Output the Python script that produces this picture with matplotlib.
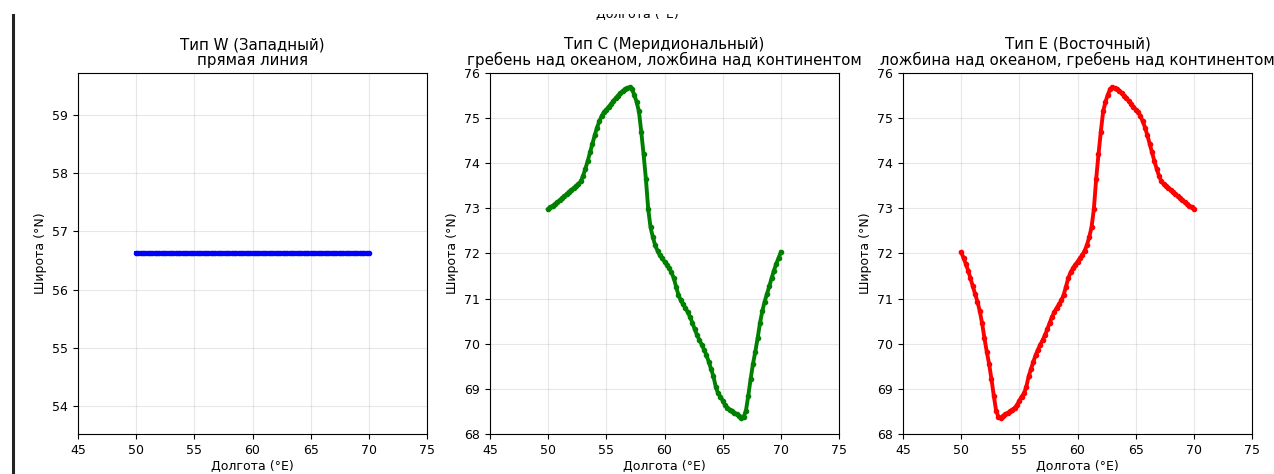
import numpy as np
import matplotlib
matplotlib.use("Agg")
import matplotlib.pyplot as plt
from matplotlib.lines import Line2D
from matplotlib.patches import Rectangle

# longitudes of the trajectory points (50..70 E, step 0.2)
lon = np.linspace(50, 70, 101)

# type W: straight zonal line
lat_w = [56.62] * len(lon)

# type C: ridge over ocean, trough over continent
lat_c = [
    72.98, 73.02, 73.06, 73.10, 73.14, 73.18, 73.23, 73.27, 73.32, 73.37,
    73.41, 73.45, 73.50, 73.54, 73.60, 73.72, 73.88, 74.05, 74.24, 74.43,
    74.62, 74.79, 74.93, 75.05, 75.13, 75.19, 75.25, 75.31, 75.38, 75.44,
    75.50, 75.55, 75.60, 75.64, 75.67, 75.68, 75.64, 75.52, 75.36, 75.15,
    74.70, 74.20, 73.65, 72.98, 72.58, 72.36, 72.18, 72.06, 71.96, 71.89,
    71.82, 71.75, 71.67, 71.58, 71.45, 71.26, 71.08, 70.96, 70.87, 70.79,
    70.70, 70.59, 70.46, 70.32, 70.19, 70.08, 69.98, 69.87, 69.75, 69.60,
    69.44, 69.28, 69.05, 68.90, 68.83, 68.74, 68.64, 68.58, 68.54, 68.50,
    68.47, 68.44, 68.40, 68.36, 68.38, 68.52, 68.85, 69.22, 69.55, 69.82,
    70.12, 70.45, 70.72, 70.93, 71.10, 71.27, 71.45, 71.62, 71.77, 71.90,
    72.03,
]

# type E: trough over ocean, ridge over continent
lat_e = [
    72.03, 71.90, 71.77, 71.62, 71.45, 71.27, 71.10, 70.93, 70.72, 70.45,
    70.12, 69.82, 69.55, 69.22, 68.85, 68.52, 68.38, 68.36, 68.40, 68.44,
    68.47, 68.50, 68.54, 68.58, 68.64, 68.74, 68.83, 68.90, 69.05, 69.28,
    69.44, 69.60, 69.75, 69.87, 69.98, 70.08, 70.19, 70.32, 70.46, 70.59,
    70.70, 70.79, 70.87, 70.96, 71.08, 71.26, 71.45, 71.58, 71.67, 71.75,
    71.82, 71.89, 71.96, 72.06, 72.18, 72.36, 72.58, 72.98, 73.65, 74.20,
    74.70, 75.15, 75.36, 75.52, 75.64, 75.68, 75.67, 75.64, 75.60, 75.55,
    75.50, 75.44, 75.38, 75.31, 75.25, 75.19, 75.13, 75.05, 74.93, 74.79,
    74.62, 74.43, 74.24, 74.05, 73.88, 73.72, 73.60, 73.54, 73.50, 73.45,
    73.41, 73.37, 73.32, 73.27, 73.23, 73.18, 73.14, 73.10, 73.06, 73.02,
    72.98,
]

titles = [
    "Тип W (Западный)\nпрямая линия",
    "Тип C (Меридиональный)\nгребень над океаном, ложбина над континентом",
    "Тип E (Восточный)\nложбина над океаном, гребень над континентом",
]
series = [lat_w, lat_c, lat_e]
colors = ["blue", "green", "red"]
ylims = [(53.52, 59.72), (68, 76), (68, 76)]

fig = plt.figure(figsize=(12.74, 4.74), dpi=100)
lefts = [0.0612, 0.3846, 0.7088]

for left, lat, color, title, ylim in zip(lefts, series, colors, titles, ylims):
    ax = fig.add_axes([left, 0.0844, 0.274, 0.7616])
    ax.plot(lon, lat, color=color, linewidth=2.8, marker="o", markersize=3)
    ax.set_xlim(45, 75)
    ax.set_ylim(*ylim)
    ax.set_xticks([45, 50, 55, 60, 65, 70, 75])
    ax.grid(True, alpha=0.3)
    ax.set_title(title, fontsize=10.8, pad=6, linespacing=1.0)
    ax.set_xlabel("Долгота (°E)", fontsize=9, labelpad=2)
    ax.set_ylabel("Широта (°N)", fontsize=9, labelpad=4)
    ax.tick_params(labelsize=9)

# clipped label of a figure above (screenshot artefact)
fig.text(0.5, 1 - 17.5 / 474, "Долгота (°E)", ha="center", va="baseline", fontsize=9)
fig.patches.append(Rectangle((0, 1 - 13.5 / 474), 1, 13.5 / 474, transform=fig.transFigure,
                             facecolor="white", edgecolor="none", zorder=10))
fig.lines.append(Line2D([12.5 / 1274, 12.5 / 1274], [0, 1 - 14 / 474],
                        transform=fig.transFigure, color="#222222", linewidth=2.2))

fig.savefig("out.png", dpi=100)
plt.close(fig)
